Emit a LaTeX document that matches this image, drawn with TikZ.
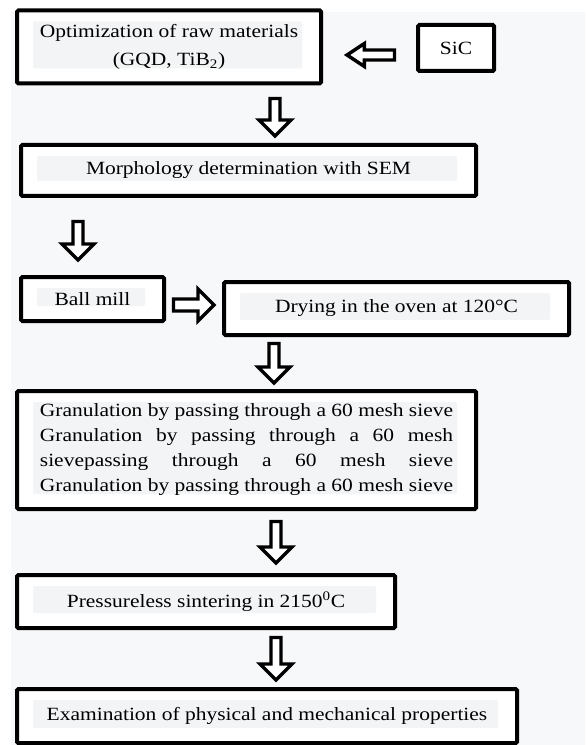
\documentclass[tikz,border=0pt]{standalone}
\usepackage{fontspec}
\setmainfont{Liberation Serif}[FakeStretch=1.15]
\usetikzlibrary{calc}
\definecolor{bgc}{RGB}{247,248,250}
\definecolor{hlc}{RGB}{243,244,246}
\newlength{\gw}
\tikzset{
  flowbox/.style={draw, line width=3pt, fill=white, rounded corners=1pt, inner sep=0pt,
    font=\fontsize{14pt}{18.75pt}\selectfont, align=center,
    path picture={\fill[hlc] ([xshift=12pt,yshift=-8.25pt]path picture bounding box.north west)
      rectangle ([xshift=-14.25pt,yshift=11.25pt]path picture bounding box.south east);}},
  blk/.style={draw, line width=2.6pt, fill=white, line join=miter},
  downblk/.style={blk, to path={let \p1=(\tikztostart), \p2=(\tikztotarget) in
    (\x1-3.75pt,\y1) -- (\x1+3.75pt,\y1) -- (\x1+3.75pt,\y2+12pt) -- (\x1+12pt,\y2+12pt)
    -- (\x1,\y2) -- (\x1-12pt,\y2+12pt) -- (\x1-3.75pt,\y2+12pt) -- cycle}},
  rightblk/.style={blk, to path={let \p1=(\tikztostart), \p2=(\tikztotarget) in
    (\x1,\y1+4.5pt) -- (\x2-12pt,\y1+4.5pt) -- (\x2-12pt,\y1+12pt) -- (\x2,\y1)
    -- (\x2-12pt,\y1-12pt) -- (\x2-12pt,\y1-4.5pt) -- (\x1,\y1-4.5pt) -- cycle}},
  leftblk/.style={blk, to path={let \p1=(\tikztostart), \p2=(\tikztotarget) in
    (\x1,\y1+3.75pt) -- (\x2+13pt,\y1+3.75pt) -- (\x2+13pt,\y1+8.6pt) -- (\x2,\y1)
    -- (\x2+13pt,\y1-8.6pt) -- (\x2+13pt,\y1-3.75pt) -- (\x1,\y1-3.75pt) -- cycle}}
}
\begin{document}
\begin{tikzpicture}[x=0.75pt, y=-0.75pt]
\useasboundingbox (0,0) rectangle (585,745);
\fill[white] (0,0) rectangle (585,745);
\fill[bgc] (11,12) rectangle (585,745);

\node[flowbox, minimum width=228pt, minimum height=54.75pt] (b1) at (169,47)
  {Optimization of raw materials\\[2pt](GQD, TiB\textsubscript{2})};
\node[flowbox, minimum width=57pt, minimum height=34.5pt,
  path picture={}] (sic) at (456,48) {SiC};
\node[flowbox, minimum width=341.25pt, minimum height=38.25pt] (b2) at (248.5,170.5)
  {Morphology determination with SEM};
\node[flowbox, minimum width=107.25pt, minimum height=33pt] (ball) at (92.5,299) {Ball mill};
\node[flowbox, minimum width=258.75pt, minimum height=39.75pt] (dry) at (396.5,308.5)
  {Drying in the oven at 120°C};
\node[flowbox, minimum width=344.25pt, minimum height=88.5pt] (gran) at (246.5,450)
  {\settowidth{\gw}{Granulation by passing through a 60 mesh sieve}\global\gw=\gw
   Granulation by passing through a 60 mesh sieve\\
   \makebox[\gw][s]{Granulation by passing through a 60 mesh}\\
   \makebox[\gw][s]{sievepassing through a 60 mesh sieve}\\
   Granulation by passing through a 60 mesh sieve};
\node[flowbox, minimum width=283.5pt, minimum height=39.75pt] (press) at (206,601.5)
  {Pressureless sintering in 2150\textsuperscript{0}C};
\node[flowbox, minimum width=375pt, minimum height=40.5pt] (exam) at (267,716)
  {Examination of physical and mechanical properties};

\coordinate (a1s) at (275,98.5);  \coordinate (a1e) at (275,136);
\coordinate (a2s) at (78,221.5);  \coordinate (a2e) at (78,260);
\coordinate (a3s) at (274,343.5); \coordinate (a3e) at (274,383);
\coordinate (a4s) at (276,521.5); \coordinate (a4e) at (276,563);
\coordinate (a5s) at (276,637.5); \coordinate (a5e) at (276,680);
\coordinate (ars) at (173.5,305); \coordinate (are) at (214,305);
\coordinate (als) at (394.5,55);  \coordinate (ale) at (347,55);

\draw[downblk] (a1s) to (a1e);
\draw[downblk] (a2s) to (a2e);
\draw[downblk] (a3s) to (a3e);
\draw[downblk] (a4s) to (a4e);
\draw[downblk] (a5s) to (a5e);
\draw[rightblk] (ars) to (are);
\draw[leftblk] (als) to (ale);
\end{tikzpicture}
\end{document}
